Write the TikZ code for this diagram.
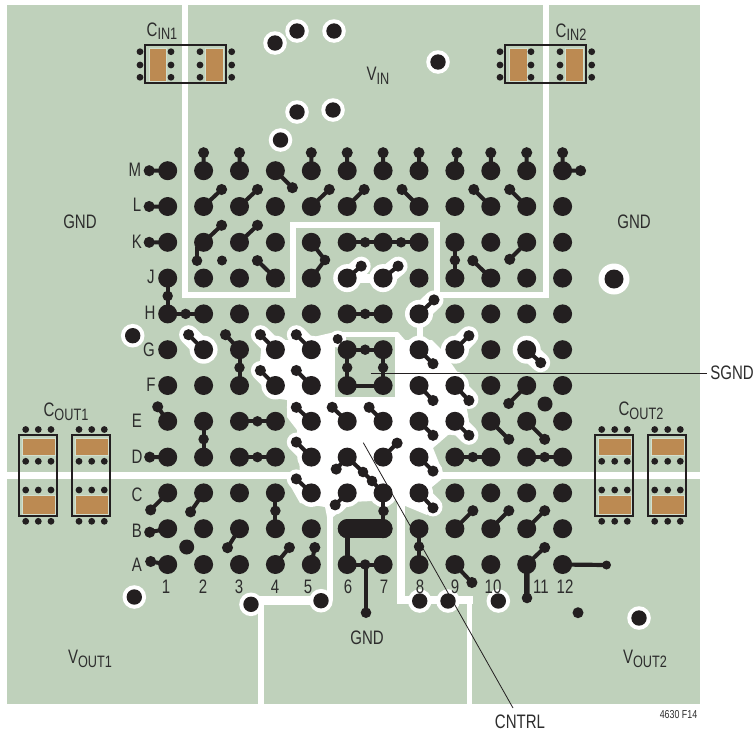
\documentclass[tikz,border=0pt]{standalone}
\usepackage{fontspec}
\setmainfont{Liberation Sans}[FakeStretch=0.77]
\definecolor{board}{RGB}{191,209,187}
\definecolor{bk}{RGB}{35,31,32}
\definecolor{tan}{RGB}{188,138,82}
\definecolor{txt}{RGB}{45,45,45}
\newcommand\dg[2]{\path[trace] (#1) -- ++(#2) circle[radius=3.4pt];}
\newcommand\lk[2]{\draw[line width=4pt,bk] (#1) -- node[midvia]{} (#2);}
\newcommand\hl[2]{\fill[white] (#1) circle[radius=14pt]; \draw[white,line width=19pt,line cap=round] (#1) -- ++(#2);}
\newcommand\sbl[2]{#1\raisebox{-3.5pt}{\fontsize{16.5}{16.5}\selectfont #2}}
\newcommand\capv[4]{% box x0 x1, via columns
  \fill[tan,draw=board!70!white,line width=0.6pt] (#1+3,438) rectangle (#2-2,455.7);
  \fill[tan,draw=board!70!white,line width=0.6pt] (#1+3,495.3) rectangle (#2-2,514);
  \foreach \vx in {#3} \foreach \vy in {429.5,461.3,490,521.3} \fill[bk] (\vx,\vy) circle[radius=3.4pt];
  \draw[bk,line width=1.7pt] (#1,435) rectangle (#2,516);}
\newcommand\caph[6]{% box x0 x1, pads a b, c d
  \fill[tan,draw=board!70!white,line width=0.6pt] (#3,48) rectangle (#4,81);
  \fill[tan,draw=board!70!white,line width=0.6pt] (#5,48) rectangle (#6,81);
  \draw[bk,line width=1.7pt] (#1,45) rectangle (#2,83);}
\tikzset{
  trace/.style={draw=bk,fill=bk,line width=4pt},
  midvia/.style={circle,fill=bk,draw=none,inner sep=0pt,minimum size=10.5pt},
  lbl/.style={text=txt,inner sep=0pt,font=\fontsize{19.5}{21}\selectfont},
  wl/.style={white,line width=6pt},
  leader/.style={bk,line width=0.8pt}
}
\begin{document}
\begin{tikzpicture}[x=1pt,y=-1pt]
\useasboundingbox (0,0) rectangle (754,734);
\fill[white] (0,0) rectangle (754,734);
\fill[board] (7,5) rectangle (700,704);
% grid
\foreach \r [count=\i from 0] in {M,L,K,J,H,G,F,E,D,C,B,A}
  \foreach \c in {1,...,12}
    \coordinate (\r\c) at ({167.7+35.9*(\c-1)},{170.7+35.8*\i});
% plane splits
\draw[wl,miter limit=10] (185,5) -- (185,295) -- (293,295) -- (293,225) -- (437,225) -- (437,295) -- (546,295) -- (546,5);
\draw[white,line width=6.5pt] (7,475.7) -- (305,475.7) (430,475.7) -- (700,475.7);
\draw[wl] (330,500) -- (330,600);
\draw[white,line width=8.5pt] (326,600.5) -- (251,600.5);
\draw[wl] (261,600) -- (261,704);
\draw[white,line width=8pt] (401,495) -- (401,600) -- (473,600);
\draw[white,line width=5.5pt] (469.5,600) -- (469.5,704);
% white pour
\fill[white] (262,340) -- (300,340) -- (335,332) -- (398,332) -- (405,340) -- (432,340) -- (442,350) -- (458,373) -- (465,400) -- (468,415) -- (465,432) -- (448,435) -- (433,448) -- (443,473) -- (443,478) -- (432,487) -- (427,515) -- (403,505) -- (395,500) -- (350,502) -- (345,507) -- (333,517) -- (327,517) -- (325,507) -- (300,503) -- (287,480) -- (287,473) -- (300,473) -- (297,430) -- (287,417) -- (287,400) -- (267,397) -- (260,362) -- cycle;
\draw[white,line width=6pt] (420,313) -- (420,345);
% halos
\hl{J6}{14,-12} \hl{J7}{15,-12} \draw[white,line width=9pt] (J6) -- (J7);
\hl{H8}{15,-14} \hl{G2}{-15,-15} \hl{G4}{-15,-15} \hl{G5}{-15,-15}
\hl{G8}{14,14} \hl{G9}{14,-14} \hl{G11}{14,13}
\hl{F4}{-15,-15} \hl{F5}{-15,-15} \hl{F8}{14,14} \hl{F9}{14,14}
\hl{E5}{-15,-14} \hl{E6}{-15,-14} \hl{E7}{-15,-14} \hl{E8}{14,14} \hl{E9}{14,14}
\hl{D5}{-15,-15} \hl{D6}{-12,12} \hl{D7}{14,-14} \hl{D8}{14,14}
\hl{C5}{-15,-14} \hl{C6}{-12,12} \hl{C7}{0,5} \hl{C8}{14,14}
% SGND square
\fill[board] (335,337) rectangle (395,396.7);
\fill[white] (337.7,339) circle[radius=8.5pt];
% halo vias
\foreach \x/\y in {275/43,297/31,334/31,438/62,297/112,333/110,280.5/140,132.7/335.7,134.3/597,251/604.3,321/600.7,419.7/601,448/601,498.3/601,639/618}
  \fill[white] (\x,\y) circle[radius=11.8pt];
\foreach \x/\y in {275/43,297/31,334/31,438/62,297/112,333/110,280.5/140,132.7/335.7,134.3/597,251/604.3,321/600.7,419.7/601,448/601,498.3/601,639/618}
  \fill[bk] (\x,\y) circle[radius=7.7pt];
\fill[white] (614,279) circle[radius=15.5pt];
\fill[bk] (614,279) circle[radius=9.5pt];
% stand-alone vias
\fill[bk] (222,260.5) circle[radius=5pt];
\fill[bk] (545,404) circle[radius=7.5pt];
\fill[bk] (186.7,547) circle[radius=7.5pt];
\fill[bk] (578,612.7) circle[radius=5.5pt];
\fill[bk] (337.7,339) circle[radius=5pt];
% dog bones
% M
\dg{M1}{-18.5,0} \dg{M2}{0,-18} \dg{M3}{0,-18} \dg{M4}{17,17} \dg{M5}{0,-18} \dg{M6}{0,-18}
\dg{M7}{0,-18} \dg{M8}{0,-18} \dg{M9}{2,-18} \dg{M10}{0,-18} \dg{M11}{0,-18} \dg{M12}{0,-18} \dg{M12}{18,0}
% L
\dg{L1}{-18.5,0} \dg{L2}{18,-17} \dg{L3}{18,-17} \dg{L5}{18,-17} \dg{L6}{17,-17} \dg{L8}{-17,-17} \dg{L10}{-17,-17} \dg{L11}{-17,-17}
% K
\dg{K1}{-18.5,0} \dg{K2}{18,-17} \dg{K3}{18,-17} \dg{K11}{-17,17}
\draw[trace] (K2) ++(-6.5,5) -- ++(0,13.5); \fill[bk] (197,260.7) circle[radius=5.3pt];
\draw[line width=4pt,bk] (K5) -- (325,260) -- (J5); \fill[bk] (325,260) circle[radius=5.3pt];
\lk{K6}{K7} \lk{K7}{K8} \lk{K9}{J9}
% J
\lk{J1}{H1} \dg{J4}{-18,-17.5} \dg{J6}{14,-12} \dg{J7}{15,-12} \dg{J10}{-18,-17.5}
% H
\lk{H1}{H2} \lk{H6}{H7} \dg{H8}{15,-14}
% G
\dg{G2}{-15,-15} \dg{G3}{-14,-15} \lk{G3}{F3} \dg{G4}{-15,-15} \dg{G5}{-15,-15}
\lk{G6}{G7} \lk{G6}{F6} \lk{G7}{F7} \draw[line width=4pt,bk] (F6) -- (F7);
\dg{G8}{14,14} \dg{G9}{14,-14} \dg{G11}{14,13}
% F
\dg{F4}{-15,-15} \dg{F5}{-15,-15} \dg{F8}{14,15} \dg{F9}{14,15} \dg{F11}{-18,18}
% E
\dg{E1}{-10,-14.5} \lk{E2}{D2} \lk{E3}{E4} \dg{E5}{-15,-14} \dg{E6}{-15,-14} \dg{E7}{-14,-14} \dg{E8}{14,14} \dg{E9}{14,14} \dg{E10}{18,18} \dg{E11}{18,18}
% D
\dg{D1}{-18,0} \lk{D3}{D4} \dg{D5}{-15,-15} \dg{D6}{-11,12} \dg{D7}{14,-14} \dg{D8}{14,14} \lk{D9}{D10} \lk{D11}{D12}
\draw[line width=4pt,bk] (D6) -- (363,472) -- (372,481) -- (C7);
\fill[bk] (363,472) circle[radius=5.3pt]; \fill[bk] (372,481) circle[radius=5.3pt];
% C
\dg{C1}{-17,17} \dg{C2}{-13,19} \lk{C4}{B4} \dg{C5}{-15,-14} \dg{C6}{-12,12} \dg{C8}{14,15}
\draw[line width=4pt,bk] (C7) -- (B7); \fill[bk] (383.5,511) circle[radius=5.3pt];
% B
\dg{B1}{-18,3.5} \dg{B3}{-12,19} \dg{B9}{18,-18} \dg{B10}{18,-18} \dg{B11}{18,-18}
\draw[bk,line width=18.5pt,line cap=round] (B6) -- (B7);
\draw[line width=5pt,bk] (B6) -- (A6);
\lk{B8}{A8}
% A
\dg{A1}{-17,-3} \dg{A4}{14,-17} \dg{A5}{3.5,-17} \dg{A9}{17,18} \dg{A11}{18,-17}
\lk{A6}{A7}
\draw[line width=4pt,bk] (366,565) -- (366,612); \fill[bk] (366,612.7) circle[radius=5.3pt];
\draw[line width=5.5pt,bk] (A11) -- (527,598); \fill[bk] (527,598) circle[radius=5.3pt];
\draw[line width=4.2pt,bk] (A12) -- (606.5,565); \fill[bk] (606.5,565) circle[radius=4.5pt];
% balls
\foreach \r in {M,L,K,J,H,G,F,E,D,C,B,A}
  \foreach \c in {1,...,12}
    \fill[bk] (\r\c) circle[radius=9.5pt];
% capacitors
\caph{145}{226}{149.3}{166.7}{205}{223}
\caph{505}{586}{509}{527}{565}{583.3}
\foreach \x in {140,171,200,231.7,500,531,560,591.7}
  \foreach \y in {51.7,65,77.3}
    \fill[bk] (\x,\y) circle[radius=3.4pt];
\capv{19}{57.3}{25.7,38.3,51}{}
\capv{72.3}{110.3}{79,91.7,104.3}{}
\capv{595}{633.3}{601.7,614.7,627.3}{}
\capv{648.3}{686.3}{654.7,667.7,680.3}{}
% labels
\node[lbl] at (162,31) {\sbl{C}{IN1}};
\node[lbl] at (571,32) {\sbl{C}{IN2}};
\node[lbl] at (378,76) {\sbl{V}{IN}};
\node[lbl] at (80,222) {GND};
\node[lbl] at (634,222) {GND};
\node[lbl] at (66,412) {\sbl{C}{OUT1}};
\node[lbl] at (641,411) {\sbl{C}{OUT2}};
\node[lbl] at (90,659) {\sbl{V}{OUT1}};
\node[lbl] at (645,659) {\sbl{V}{OUT2}};
\node[lbl] at (367,638) {GND};
\foreach \t/\x/\y in {M/135/170,L/137/205,K/137/242,J/151/277,H/150/313,G/149/350,F/151/385,E/137/421,D/137/457,C/137/495,B/137/531,A/137/565,1/166/587,2/203/587,3/239/587,4/275/587,5/308/587,6/348/587,7/384/587,8/420/587,9/455/587,10/493/587,11/541/587,12/565/587}
  \node[lbl] at (\x,\y) {\t};
\node[lbl,anchor=east] (sgnd) at (754,373) {SGND};
\node[lbl] (cntrl) at (520,722) {CNTRL};
\node[inner sep=0pt,text=txt,font=\fontsize{11.5}{12}\selectfont] at (678.5,715) {4630 F14};
\coordinate (sg0) at (370.7,373);
\coordinate (cn0) at (363.3,442.7);
\draw[leader] (sg0) -- ([xshift=-3pt]sgnd.west);
\draw[leader] (cn0) -- (513,708);
\end{tikzpicture}
\end{document}
